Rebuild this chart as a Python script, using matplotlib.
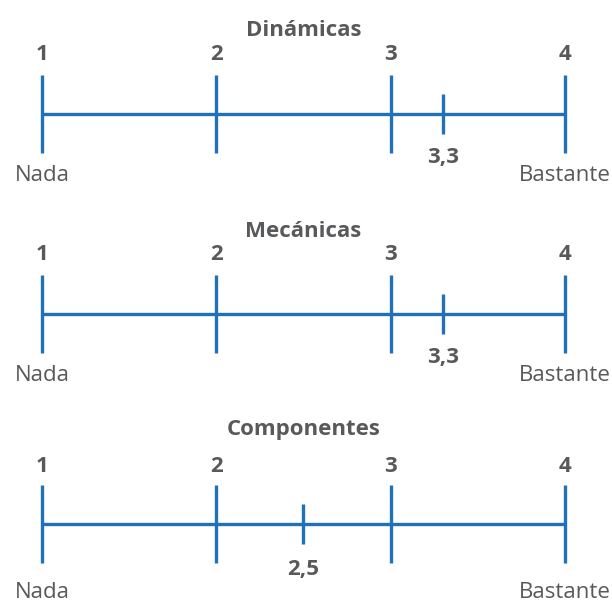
import matplotlib
matplotlib.use("Agg")
import matplotlib.pyplot as plt

# ---- data ----
titles = ["Dinámicas", "Mecánicas", "Componentes"]
values = [3.3, 3.3, 2.5]
value_labels = ["3,3", "3,3", "2,5"]
scale_ticks = [1, 2, 3, 4]
scale_tick_labels = ["1", "2", "3", "4"]
end_labels = ["Nada", "Bastante"]

# ---- layout (pixel rows, top-down) ----
line_y = [114, 314, 524]
title_base = [36, 237, 435]
num_base = [60, 260, 472]
val_base = [163, 363, 575]
end_base = [181, 381, 598]
main_half = 39
val_half = 20

BLUE = "#1f72b9"
GRAY = "#58595b"
FONT = "Open Sans"
FS = 16
BW = "bold"

W, H = 612, 604
fig = plt.figure(figsize=(W / 100, H / 100), dpi=100)
ax = fig.add_axes([0, 0, 1, 1])
px = 3 / (565 - 42)
ax.set_xlim(1 - 42 * px, 4 + (W - 565) * px)
ax.set_ylim(H, 0)
ax.axis("off")

lw = 2.4
for i in range(3):
    y = line_y[i]
    ax.plot([scale_ticks[0], scale_ticks[-1]], [y, y], color=BLUE, lw=lw,
            solid_capstyle="butt")
    ax.vlines(scale_ticks, y - main_half, y + main_half, color=BLUE, lw=lw)
    ax.vlines([values[i]], y - val_half, y + val_half, color=BLUE, lw=lw)
    ax.text(2.5, title_base[i], titles[i], ha="center", va="baseline",
            fontsize=FS, fontweight=BW, color=GRAY, family=FONT)
    for t, lab in zip(scale_ticks, scale_tick_labels):
        ax.text(t, num_base[i], lab, ha="center", va="baseline",
                fontsize=FS, fontweight=BW, color=GRAY, family=FONT)
    ax.text(values[i], val_base[i], value_labels[i], ha="center",
            va="baseline", fontsize=FS, fontweight=BW, color=GRAY,
            family=FONT)
    ax.text(scale_ticks[0], end_base[i], end_labels[0], ha="center",
            va="baseline", fontsize=FS, color=GRAY, family=FONT)
    ax.text(scale_ticks[-1], end_base[i], end_labels[1], ha="center",
            va="baseline", fontsize=FS, color=GRAY, family=FONT)

fig.savefig("out.png", dpi=100)
